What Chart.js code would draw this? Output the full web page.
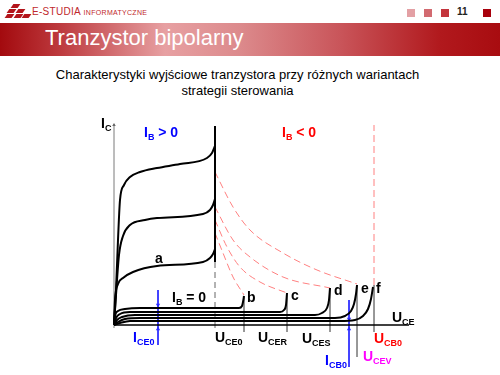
<!DOCTYPE html>
<html lang="pl">
<head>
<meta charset="UTF-8">
<title>Tranzystor bipolarny</title>
<script src="https://cdn.jsdelivr.net/npm/chart.js"></script>
<style>
  body { margin: 0; width: 500px; height: 375px; background: #fff; position: relative; overflow: hidden;
         font-family: "Liberation Sans", Arial, sans-serif; }
  #logo { position: absolute; left: 6px; top: 4px; width: 24px; height: 16px; }
  #logo div { position: absolute; width: 7px; height: 4px; background: #b3141a; transform: skewX(-35deg); }
  #brand { position: absolute; left: 32px; top: 6px; color: #c0282c; font-size: 10px; letter-spacing: 0.3px; }
  #brand small { font-size: 7px; }
  .sq { position: absolute; top: 9px; width: 8px; height: 8px; }
  #num { position: absolute; left: 457px; top: 6px; font-size: 10px; font-weight: bold; color: #222; }
  #band { position: absolute; left: 0; top: 23px; width: 500px; height: 33px;
          background: linear-gradient(to right, #a30a0e 0%, #bd3a3e 12%, #e7a0a2 33%, #dc8a8c 48%, #c9555a 68%, #b1191d 88%, #a80c10 100%); }
  #title { position: absolute; left: 45px; top: 25px; font-size: 22px; color: #fff; }
  #sub { position: absolute; left: 0; top: 67px; width: 475px; text-align: center; font-size: 13px; line-height: 16px; color: #000; }
  canvas { position: absolute; left: 0; top: 0; }
</style>
</head>
<body>
<div id="logo">
  <div style="left:6px;top:0"></div>
  <div style="left:2px;top:5px"></div>
  <div style="left:11px;top:5px"></div>
  <div style="left:0;top:10px"></div>
  <div style="left:9px;top:10px"></div>
  <div style="left:17px;top:10px"></div>
</div>
<div id="brand">E-STUDIA <small>INFORMATYCZNE</small></div>
<div class="sq" style="left:407px;background:#e3a0a4"></div>
<div class="sq" style="left:424px;background:#d26a70"></div>
<div class="sq" style="left:441px;background:#c3343c"></div>
<div id="num">11</div>
<div class="sq" style="left:483px;background:#a8000c"></div>
<div id="band"></div>
<div id="title">Tranzystor bipolarny</div>
<div id="sub">Charakterystyki wyjściowe tranzystora przy różnych wariantach<br>strategii sterowania</div>

<canvas id="chart" width="500" height="375"></canvas>

<script>
  // wartości w umownych jednostkach: x = UCE, y = IC
  const curveHigh = [[0,0],[2,35],[4,85],[6,125],[10,140],[16,148],[26,153],[43,157],[66,161],[93,167],[98,172],[101,179]];
  const curveMid  = [[0,0],[2,30],[5,70],[9,89],[16,100],[31,105],[43,107],[89,111],[96,115],[99,120],[101,126]];
  const curveA    = [[0,0],[1,25],[4,41],[9,47],[19,53],[43,59],[89,63],[96,67],[99,71],[101,76]];

  const curveB = [[0,0],[1,9],[4,14],[11,16],[26,17],[125,17],[128,19],[129,23],[130,29]];
  const curveC = [[0,0],[2,7],[6,11],[16,13],[166,13],[170,15],[172,20],[173,32]];
  const curveD = [[0,0],[3,5],[8,8],[21,10],[201,10],[208,12],[213,17],[215,25],[216,37]];
  const curveE = [[0,0],[4,3],[11,6],[26,7],[221,7],[231,9],[237,14],[240,21],[242,31],[243,40]];
  const curveF = [[0,0],[6,2],[16,4],[36,4],[226,4],[241,5],[249,9],[254,16],[257,26],[259,38]];

  // przebicie przy IB < 0
  const breakE = [[101,153],[119,118],[136,95],[169,72],[203,55],[243,41]];
  const breakD = [[101,118],[119,85],[136,68],[169,48],[216,37]];
  const breakC = [[101,105],[113,78],[126,58],[146,43],[173,32]];
  const breakB = [[101,92],[109,72],[119,48],[130,30]];

  const uce0 = 101;     // UCE0
  const ucb0 = 260;     // UCB0
  const markX = [130, 173, 216, 243, 260];
  const markTop = [29, 32, 37, 40, 40];
  const ice0 = 44;
  const icb0 = 235;

  const pts = a => a.map(p => ({x: p[0], y: p[1]}));

  const black = (data) => ({ data: pts(data), borderColor: '#000', borderWidth: 2, cubicInterpolationMode: 'monotone' });
  const red = (data) => ({ data: pts(data), borderColor: '#ff8080', borderWidth: 1, borderDash: [7, 4], cubicInterpolationMode: 'monotone' });

  const datasets = [
    black(curveHigh), black(curveMid), black(curveA),
    black(curveB), black(curveC), black(curveD), black(curveE), black(curveF),
    { data: pts([[uce0, 63], [uce0, 199]]), borderColor: '#000', borderWidth: 2 },
    { data: pts([[0, 0], [295, 0]]), borderColor: '#000', borderWidth: 1.5 },
    { data: pts([[0, -3], [0, 200]]), borderColor: '#7a7a7a', borderWidth: 1 },
    { data: pts([[uce0, 63], [uce0, -5]]), borderColor: '#666', borderWidth: 1, borderDash: [6, 4] },
    red(breakE), red(breakD), red(breakC), red(breakB),
    { data: pts([[ucb0, 40], [ucb0, 200]]), borderColor: '#ff8080', borderWidth: 1, borderDash: [7, 4] },
    { data: pts([[ice0, 35], [ice0, -20]]), borderColor: '#2a2aff', borderWidth: 1 },
    { data: pts([[icb0, 25], [icb0, -42]]), borderColor: '#2a2aff', borderWidth: 1 },
    { data: pts([[ice0, 20], [ice0, -4], [icb0, 6], [icb0, -4]]), showLine: false, pointStyle: 'triangle',
      pointRadius: 2.5, pointRotation: [180, 0, 180, 0], backgroundColor: '#2a2aff', borderColor: '#2a2aff', borderWidth: 0 },
    { data: pts([[0, 200]]), showLine: false, pointStyle: 'triangle', pointRadius: 2,
      backgroundColor: '#555', borderColor: '#555', borderWidth: 0 }
  ];
  markX.forEach((x, i) => {
    const bottom = i === 3 ? -32 : -7;
    datasets.push({ data: pts([[x, markTop[i]], [x, bottom]]), borderColor: '#8a8a8a', borderWidth: 1 });
  });

  // opisy: [tekst, indeks dolny]
  const labels = [
    { parts: [['I', 0], ['C', 1]], x: -13, y: 197, color: '#000' },
    { parts: [['I', 0], ['B', 1], [' > 0', 0]], x: 30, y: 188, color: '#0000ff' },
    { parts: [['I', 0], ['B', 1], [' < 0', 0]], x: 168, y: 188, color: '#ff0000' },
    { parts: [['a', 0]], x: 41, y: 62, color: '#000' },
    { parts: [['I', 0], ['B', 1], [' = 0', 0]], x: 58, y: 23, color: '#000' },
    { parts: [['b', 0]], x: 133, y: 23, color: '#000' },
    { parts: [['c', 0]], x: 177, y: 25, color: '#000' },
    { parts: [['d', 0]], x: 220, y: 30, color: '#000' },
    { parts: [['e', 0]], x: 247, y: 32, color: '#000' },
    { parts: [['f', 0]], x: 262, y: 32, color: '#000' },
    { parts: [['U', 0], ['CE', 1]], x: 278, y: 3, color: '#000' },
    { parts: [['U', 0], ['CE0', 1]], x: 101, y: -17, color: '#000' },
    { parts: [['U', 0], ['CER', 1]], x: 144, y: -17, color: '#000' },
    { parts: [['U', 0], ['CES', 1]], x: 188, y: -18, color: '#000' },
    { parts: [['U', 0], ['CB0', 1]], x: 260, y: -18, color: '#ff0000' },
    { parts: [['U', 0], ['CEV', 1]], x: 249, y: -36, color: '#ff00ff' },
    { parts: [['I', 0], ['CB0', 1]], x: 211, y: -40, color: '#0000ff' },
    { parts: [['I', 0], ['CE0', 1]], x: 19, y: -17, color: '#0000ff' }
  ];

  const labelPlugin = {
    id: 'labels',
    afterDatasetsDraw(chart) {
      const ctx = chart.ctx;
      const sx = chart.scales.x, sy = chart.scales.y;
      ctx.save();
      ctx.textBaseline = 'alphabetic';
      labels.forEach(l => {
        let px = sx.getPixelForValue(l.x);
        const py = sy.getPixelForValue(l.y);
        ctx.fillStyle = l.color;
        l.parts.forEach(([t, sub]) => {
          ctx.font = sub ? 'bold 9px "Liberation Sans"' : 'bold 14px "Liberation Sans"';
          ctx.fillText(t, px, sub ? py + 3 : py);
          px += ctx.measureText(t).width;
        });
      });
      ctx.restore();
    }
  };

  new Chart(document.getElementById('chart'), {
    type: 'line',
    data: { datasets: datasets.map(d => Object.assign({ pointRadius: 0, fill: false, tension: 0 }, d)) },
    options: {
      responsive: false,
      animation: false,
      events: [],
      layout: { autoPadding: false, padding: 0 },
      plugins: { legend: { display: false }, tooltip: { enabled: false } },
      scales: {
        x: { type: 'linear', display: false, min: -114, max: 386 },
        y: { type: 'linear', display: false, min: -50, max: 325 }
      }
    },
    plugins: [labelPlugin]
  });
</script>
</body>
</html>
